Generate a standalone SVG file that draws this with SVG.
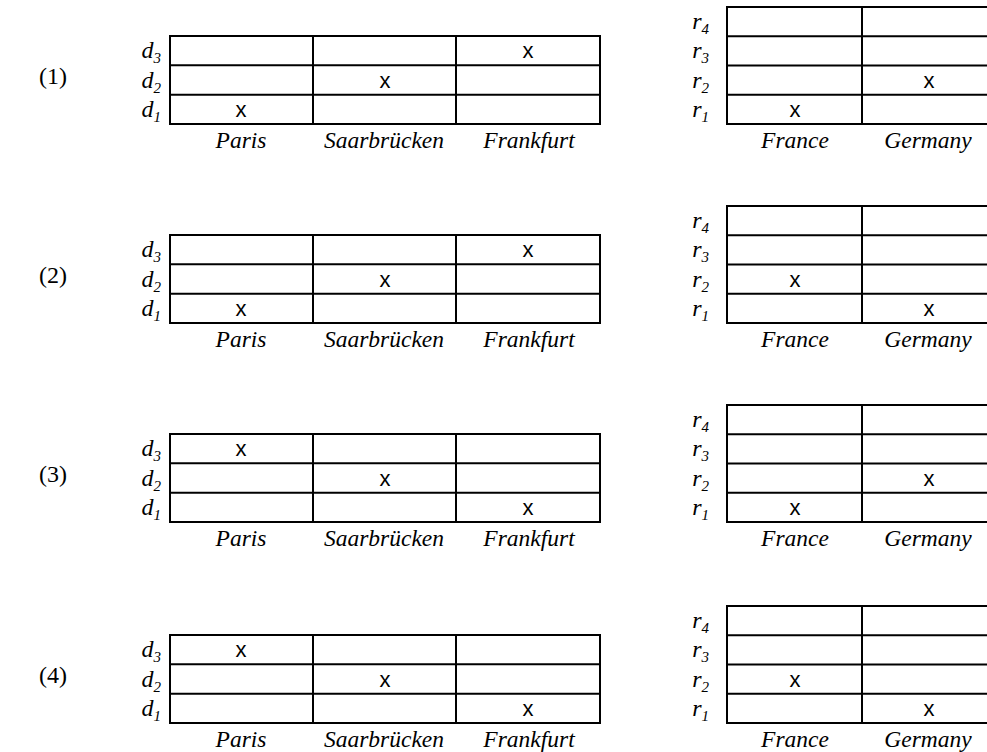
<svg xmlns="http://www.w3.org/2000/svg" width="987" height="752" viewBox="0 0 987 752">
<style>
.grid{fill:none;stroke:#000;stroke-width:2}
.ln{stroke:#000;stroke-width:2}
.num{font-family:"Liberation Serif","Times New Roman","DejaVu Serif",serif;font-size:24px}
.row{font-family:"Liberation Serif","Times New Roman","DejaVu Serif",serif;font-size:24px;font-style:italic;text-anchor:end}
.sub{font-size:15px}
.col{font-family:"Liberation Serif","Times New Roman","DejaVu Serif",serif;font-size:23.5px;font-style:italic;text-anchor:middle}
.x{font-family:"Liberation Sans",Arial,sans-serif;font-size:22px;text-anchor:middle}
</style>
<defs>
<g id="leftTable">
<rect class="grid" x="170" y="36" width="430" height="88"/>
<line class="ln" x1="170" y1="65.3" x2="600" y2="65.3"/>
<line class="ln" x1="170" y1="94.7" x2="600" y2="94.7"/>
<line class="ln" x1="313" y1="36" x2="313" y2="124"/>
<line class="ln" x1="456" y1="36" x2="456" y2="124"/>
<text class="row" x="161" y="58">d<tspan class="sub" dy="5">3</tspan></text>
<text class="row" x="161" y="87.5">d<tspan class="sub" dy="5">2</tspan></text>
<text class="row" x="161" y="117">d<tspan class="sub" dy="5">1</tspan></text>
<text class="col" x="241" y="148">Paris</text>
<text class="col" x="384" y="148">Saarbrücken</text>
<text class="col" x="529" y="148">Frankfurt</text>
</g>
<g id="rightTable">
<rect class="grid" x="727" y="7" width="272" height="117"/>
<line class="ln" x1="727" y1="36.25" x2="999" y2="36.25"/>
<line class="ln" x1="727" y1="65.5" x2="999" y2="65.5"/>
<line class="ln" x1="727" y1="94.75" x2="999" y2="94.75"/>
<line class="ln" x1="862" y1="7" x2="862" y2="124"/>
<text class="row" x="709" y="29">r<tspan class="sub" dy="5">4</tspan></text>
<text class="row" x="709" y="58.3">r<tspan class="sub" dy="5">3</tspan></text>
<text class="row" x="709" y="87.6">r<tspan class="sub" dy="5">2</tspan></text>
<text class="row" x="709" y="116.9">r<tspan class="sub" dy="5">1</tspan></text>
<text class="col" x="795" y="148">France</text>
<text class="col" x="928" y="148">Germany</text>
</g>
</defs>

<g id="panel1">
<text class="num" x="39" y="84">(1)</text>
<use href="#leftTable"/>
<use href="#rightTable"/>
<text class="x" x="528" y="58">x</text>
<text class="x" x="385" y="87.5">x</text>
<text class="x" x="241" y="117">x</text>
<text class="x" x="929" y="87.6">x</text>
<text class="x" x="795" y="116.9">x</text>
</g>

<g id="panel2" transform="translate(0,199)">
<text class="num" x="39" y="84">(2)</text>
<use href="#leftTable"/>
<use href="#rightTable"/>
<text class="x" x="528" y="58">x</text>
<text class="x" x="385" y="87.5">x</text>
<text class="x" x="241" y="117">x</text>
<text class="x" x="795" y="87.6">x</text>
<text class="x" x="929" y="116.9">x</text>
</g>

<g id="panel3" transform="translate(0,398)">
<text class="num" x="39" y="84">(3)</text>
<use href="#leftTable"/>
<use href="#rightTable"/>
<text class="x" x="241" y="58">x</text>
<text class="x" x="385" y="87.5">x</text>
<text class="x" x="528" y="117">x</text>
<text class="x" x="929" y="87.6">x</text>
<text class="x" x="795" y="116.9">x</text>
</g>

<g id="panel4" transform="translate(0,599)">
<text class="num" x="39" y="84">(4)</text>
<use href="#leftTable"/>
<use href="#rightTable"/>
<text class="x" x="241" y="58">x</text>
<text class="x" x="385" y="87.5">x</text>
<text class="x" x="528" y="117">x</text>
<text class="x" x="795" y="87.6">x</text>
<text class="x" x="929" y="116.9">x</text>
</g>
</svg>
